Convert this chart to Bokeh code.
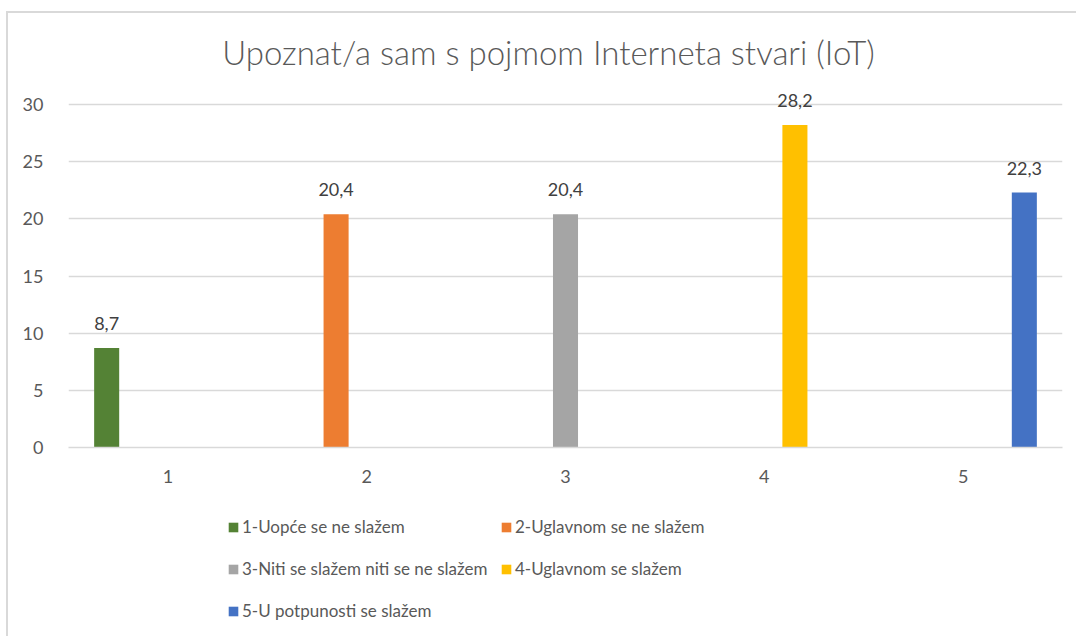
from bokeh.plotting import figure
from bokeh.layouts import column
from bokeh.models import Range1d, Legend, LegendItem, FixedTicker, ColumnDataSource, LabelSet, Label
from bokeh.core.properties import value
from bokeh.embed import file_html
from bokeh.resources import INLINE

title_text = "Upoznat/a sam s pojmom Interneta stvari (IoT)"
categories = [1, 2, 3, 4, 5]
series_names = [
    "1-Uopće se ne slažem",
    "2-Uglavnom se ne slažem",
    "3-Niti se slažem niti se ne slažem",
    "4-Uglavnom se slažem",
    "5-U potpunosti se slažem",
]
s1 = [8.7, None, None, None, None]
s2 = [None, 20.4, None, None, None]
s3 = [None, None, 20.4, None, None]
s4 = [None, None, None, 28.2, None]
s5 = [None, None, None, None, 22.3]
series_values = [s1, s2, s3, s4, s5]
colors = ["#548235", "#ED7D31", "#A5A5A5", "#FFC000", "#4472C4"]
y_ticks = [0, 5, 10, 15, 20, 25, 30]
y_axis_max = 30

FONT = "Lato"
TXT = "#595959"

FRAME_H = 434          # frame spans from the top of the canvas down to the x axis
PX_PER_UNIT = 343 / y_axis_max
y_top = FRAME_H / PX_PER_UNIT

p = figure(width=1068, height=482, output_backend="svg", toolbar_location=None, title=None,
           x_range=Range1d(0.5, 5.5), y_range=Range1d(0, y_top),
           min_border_left=60, min_border_right=14, min_border_top=0, min_border_bottom=48)
p.outline_line_color = None
p.background_fill_color = "white"
p.border_fill_color = "white"

# legend strip below the chart (shares the series data; its marks are empty and out of view)
pl = figure(width=1068, height=141, output_backend="svg", toolbar_location=None, title=None,
            x_range=p.x_range, y_range=Range1d(100, 200),
            x_axis_location=None, y_axis_location=None,
            min_border_left=0, min_border_right=0, min_border_top=0, min_border_bottom=0)
pl.outline_line_color = None
pl.xgrid.visible = False
pl.ygrid.visible = False
pl.border_fill_color = "white"
pl.background_fill_color = "white"

n = len(series_values)
step = 0.154
bar_w = 0.126
items = []
for i, vals in enumerate(series_values):
    xs, tops, labels = [], [], []
    for c, v in zip(categories, vals):
        if v is None:
            continue
        xs.append(c + (i - (n - 1) / 2) * step)
        tops.append(v)
        labels.append(f"{v:.1f}".replace(".", ","))
    src = ColumnDataSource(dict(x=xs, top=tops, label=labels))
    p.vbar(x="x", top="top", width=bar_w, bottom=0, source=src,
           fill_color=colors[i], line_color=None)
    p.add_layout(LabelSet(x="x", y="top", text="label", source=src, y_offset=18,
                          text_align="center", text_baseline="alphabetic",
                          text_font=value(FONT), text_font_size=value("18px"),
                          text_color=value("#404040")))
    rl = pl.vbar(x="x", top="top", width=0, bottom="top", source=src,
                 fill_color=colors[i], line_color=None)
    items.append(LegendItem(label=series_names[i], renderers=[rl]))

p.xaxis.ticker = FixedTicker(ticks=categories)
p.yaxis.ticker = FixedTicker(ticks=y_ticks)
for ax in (p.xaxis[0], p.yaxis[0]):
    ax.major_tick_line_color = None
    ax.minor_tick_line_color = None
    ax.major_label_text_font = FONT
    ax.major_label_text_font_size = "18px"
    ax.major_label_text_color = TXT
p.yaxis.axis_line_color = None
p.yaxis.major_label_standoff = 19
p.xaxis.axis_line_color = "#D9D9D9"
p.xaxis.axis_line_width = 1.5
p.xaxis.major_label_standoff = 16
p.xgrid.grid_line_color = None
p.ygrid.grid_line_color = "#D9D9D9"
p.ygrid.grid_line_width = 1.5

p.add_layout(Label(x=480, y=396, x_units="screen", y_units="screen", text=title_text,
                   text_align="center", text_baseline="alphabetic",
                   text_font="Lato Light, Lato", text_font_size="33px", text_color=TXT))

legend = Legend(items=items, location=(159, 8), orientation="horizontal", ncols=2,
                glyph_width=12, glyph_height=12, label_standoff=3, spacing=7,
                label_height=35, label_width=251, padding=0, margin=0,
                border_line_color=None, background_fill_alpha=0,
                label_text_font=FONT, label_text_font_size="17px", label_text_color=TXT)
pl.add_layout(legend, "center")

layout = column(p, pl, spacing=0)
layout.styles = {"margin-left": "6px", "margin-top": "11px",
                 "border-left": "2px solid #D9D9D9", "border-top": "2px solid #D9D9D9"}

open("out.html", "w").write(file_html(layout, INLINE))
